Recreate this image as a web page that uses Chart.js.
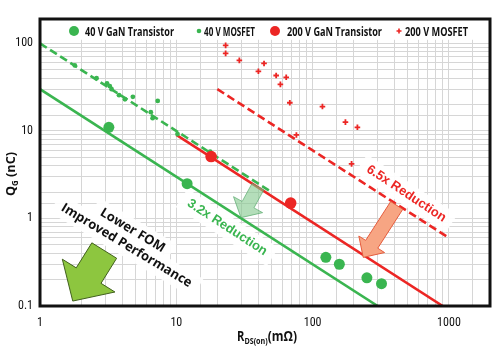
<!DOCTYPE html>
<html><head><meta charset="utf-8">
<script src="https://cdn.jsdelivr.net/npm/chart.js@4.4.1/dist/chart.umd.min.js"></script>
<style>html,body{margin:0;padding:0;background:#fff;}#wrap{width:500px;height:349px;position:relative}</style>
</head><body><div id="wrap"><canvas id="c" width="500" height="349"></canvas></div>
<script>
// ---- data ----
const gan40R = [3.2, 12, 125, 157, 250, 320];
const gan40Q = [11, 2.5, 0.36, 0.30, 0.21, 0.18];
const mos40R = [1.8, 2.6, 3.1, 3.25, 3.35, 3.8, 4.2, 4.8, 6.5, 6.7, 7.3, 10.2, 17.7];
const mos40Q = [56, 40, 35, 32.5, 30, 25.6, 23, 24.5, 16.4, 14, 22, 9.2, 5.8];
const gan200R = [18, 69];
const gan200Q = [5.1, 1.5];
const mos200R = [23, 23, 29, 40, 44, 54, 58, 64, 68, 76, 118, 174, 193, 213];
const mos200Q = [95, 77, 64, 48, 59, 43, 34, 41, 21, 9, 19, 12.6, 4.2, 11];
// figure-of-merit trend lines (end points)
const gan40FitR = [1, 300], gan40FitQ = [30, 0.1];
const mos40FitR = [1, 48], mos40FitQ = [100, 2.08];
const gan200FitR = [10, 900], gan200FitQ = [9, 0.1];
const mos200FitR = [20, 1000], mos200FitQ = [30, 0.6];
const xTickLabels = [1, 10, 100, 1000];
const yTickLabels = [0.1, 1, 10, 100];
const legendLabels = ['40 V GaN Transistor', '40 V MOSFET', '200 V GaN Transistor', '200 V MOSFET'];

const GREEN = 'rgb(58,181,80)';
const RED = 'rgb(236,38,36)';
const TICKFONT = "'Liberation Sans Narrow','Roboto Condensed','Open Sans',sans-serif";
const HUMAN = "'Open Sans','Noto Sans',sans-serif";
const zip = (a, b) => a.map((v, i) => ({x: v, y: b[i]}));

const lineDs = (label, r, q, color, dash) => ({
  label, data: zip(r, q), showLine: true, borderColor: color, borderWidth: 2.6,
  borderDash: dash, pointRadius: 0, pointHoverRadius: 0, fill: false, order: 5
});

const annotations = [
  {text: '3.2x Reduction', x: 23.6, y: 0.79, angle: 33, color: GREEN, font: "bold 13px 'Liberation Sans',Arial,sans-serif"},
  {text: '6.5x Reduction', x: 486, y: 1.92, angle: 33.5, color: RED, font: "bold 13px 'Liberation Sans',Arial,sans-serif"},
  {text: 'Lower FOM', x: 4.77, y: 0.73, angle: 31, color: '#111', font: "bold 13px " + HUMAN},
  {text: 'Improved Performance', x: 4.31, y: 0.49, angle: 31, color: '#111', font: "bold 13px " + HUMAN}
];
const arrows = [
  {x: 2.96, y: 0.43, vx: -31.5, vy: 50.5, sw: 14.6, hw: 31, hl: 30, fill: '#8dc63f', stroke: '#40601c'},
  {x: 39.7, y: 2.31, vx: -17, vy: 31, sw: 6.7, hw: 16.6, hl: 14.8, fill: 'rgba(130,200,140,0.6)', stroke: 'rgba(90,170,110,0.7)'},
  {x: 414, y: 1.41, vx: -33.5, vy: 52, sw: 7.2, hw: 15.3, hl: 15.6, fill: '#f7a583', stroke: '#e55b3c'}
];

function drawArrow(ctx, tx, ty, a) {
  const L = Math.hypot(a.vx, a.vy), ux = a.vx / L, uy = a.vy / L, nx = -uy, ny = ux;
  const bx = tx + ux * (L - a.hl), by = ty + uy * (L - a.hl);
  const pts = [[tx + nx * a.sw, ty + ny * a.sw], [bx + nx * a.sw, by + ny * a.sw], [bx + nx * a.hw, by + ny * a.hw],
    [tx + a.vx, ty + a.vy], [bx - nx * a.hw, by - ny * a.hw], [bx - nx * a.sw, by - ny * a.sw], [tx - nx * a.sw, ty - ny * a.sw]];
  ctx.beginPath();
  pts.forEach((p, i) => i ? ctx.lineTo(p[0], p[1]) : ctx.moveTo(p[0], p[1]));
  ctx.closePath();
  ctx.fillStyle = a.fill; ctx.fill();
  ctx.lineWidth = 1; ctx.strokeStyle = a.stroke; ctx.stroke();
}

// draws a run of text segments squeezed horizontally to a target width (condensed look)
function fitRun(ctx, segs, x, y, targetW) {
  let w = 0;
  segs.forEach(g => { ctx.font = g.f; w += ctx.measureText(g.t).width; });
  const k = targetW / w;
  ctx.save(); ctx.translate(x, y); ctx.scale(k, 1);
  let cx = 0;
  segs.forEach(g => { ctx.font = g.f; ctx.fillText(g.t, cx, g.dy || 0); cx += ctx.measureText(g.t).width; });
  ctx.restore();
}

const decor = {
  id: 'decor',
  beforeDatasetsDraw(chart) {
    const {ctx, chartArea: ca, scales: {x, y}} = chart;
    ctx.save();
    ctx.fillStyle = '#fff';
    ctx.fillRect(ca.left, ca.top, ca.right - ca.left, y.getPixelForValue(110) - ca.top);
    annotations.forEach(a => {
      const px = x.getPixelForValue(a.x), py = y.getPixelForValue(a.y);
      ctx.save(); ctx.translate(px, py); ctx.rotate(a.angle * Math.PI / 180);
      ctx.font = a.font; const w = ctx.measureText(a.text).width;
      ctx.fillStyle = 'rgba(255,255,255,0.92)';
      ctx.fillRect(-w / 2 - 8, -11, w + 16, 22);
      ctx.restore();
    });
    ctx.restore();
  },
  afterDatasetsDraw(chart) {
    const {ctx, chartArea: ca, scales: {x, y}} = chart;
    ctx.save();
    ctx.beginPath(); ctx.rect(ca.left, ca.top, ca.right - ca.left, ca.bottom - ca.top); ctx.clip();
    arrows.forEach(a => drawArrow(ctx, x.getPixelForValue(a.x), y.getPixelForValue(a.y), a));
    annotations.forEach(a => {
      const px = x.getPixelForValue(a.x), py = y.getPixelForValue(a.y);
      ctx.save(); ctx.translate(px, py); ctx.rotate(a.angle * Math.PI / 180);
      ctx.font = a.font; ctx.fillStyle = a.color; ctx.textAlign = 'center'; ctx.textBaseline = 'middle';
      ctx.fillText(a.text, 0, 0);
      ctx.restore();
    });
    ctx.restore();
    ctx.save();
    // legend
    const ly = ca.top + 13;
    const items = [
      {sym: 'big', color: GREEN, sx: 74, tx: 85, w: 89},
      {sym: 'small', color: GREEN, sx: 199, tx: 204, w: 51},
      {sym: 'big', color: RED, sx: 275, tx: 287, w: 95},
      {sym: 'cross', color: RED, sx: 399, tx: 405, w: 63}
    ];
    ctx.textBaseline = 'middle'; ctx.textAlign = 'left';
    items.forEach((it, i) => {
      ctx.fillStyle = it.color; ctx.strokeStyle = it.color;
      if (it.sym === 'big') { ctx.beginPath(); ctx.arc(it.sx, ly - 1, 5, 0, Math.PI * 2); ctx.fill(); }
      else if (it.sym === 'small') { ctx.beginPath(); ctx.arc(it.sx, ly - 1, 2.3, 0, Math.PI * 2); ctx.fill(); }
      else { ctx.lineWidth = 1.6; ctx.beginPath(); ctx.moveTo(it.sx - 2.5, ly - 1); ctx.lineTo(it.sx + 2.5, ly - 1); ctx.moveTo(it.sx, ly - 3.5); ctx.lineTo(it.sx, ly + 1.5); ctx.stroke(); }
      ctx.fillStyle = '#111';
      fitRun(ctx, [{t: legendLabels[i], f: 'bold 13px ' + HUMAN}], it.tx, ly, it.w);
    });
    // frame
    ctx.lineWidth = 3; ctx.strokeStyle = '#111';
    ctx.strokeRect(ca.left, ca.top, ca.right - ca.left, ca.bottom - ca.top);
    // axis titles with subscripts
    ctx.fillStyle = '#111'; ctx.textBaseline = 'alphabetic'; ctx.textAlign = 'left';
    fitRun(ctx, [{t: 'R', f: 'bold 14px ' + HUMAN}, {t: 'DS(on)', f: 'bold 9px ' + HUMAN, dy: 3}, {t: '(m\u03A9)', f: 'bold 15px ' + HUMAN}], 237, 341, 60);
    ctx.save(); ctx.translate(15, 196); ctx.rotate(-Math.PI / 2);
    fitRun(ctx, [{t: 'Q', f: 'bold 13px ' + HUMAN}, {t: 'G', f: 'bold 8px ' + HUMAN, dy: 3}, {t: ' (nC)', f: 'bold 13px ' + HUMAN}], 0, 0, 44);
    ctx.restore();
    ctx.restore();
  }
};

new Chart(document.getElementById('c'), {
  type: 'scatter',
  data: {
    datasets: [
      lineDs('40 V GaN FOM', gan40FitR, gan40FitQ, GREEN, []),
      lineDs('40 V MOSFET FOM', mos40FitR, mos40FitQ, GREEN, [8, 4]),
      lineDs('200 V GaN FOM', gan200FitR, gan200FitQ, RED, []),
      lineDs('200 V MOSFET FOM', mos200FitR, mos200FitQ, RED, [8, 4]),
      {label: legendLabels[1], data: zip(mos40R, mos40Q), pointRadius: 2.4, backgroundColor: GREEN, borderWidth: 0, order: 4},
      {label: legendLabels[3], data: zip(mos200R, mos200Q), pointStyle: 'cross', pointRadius: 2.8, borderColor: RED, borderWidth: 1.8, order: 3},
      {label: legendLabels[0], data: zip(gan40R, gan40Q), pointRadius: 5.5, backgroundColor: GREEN, borderWidth: 0, order: 2},
      {label: legendLabels[2], data: zip(gan200R, gan200Q), pointRadius: 5.8, backgroundColor: RED, borderWidth: 0, order: 1}
    ]
  },
  options: {
    responsive: false, animation: false, devicePixelRatio: 1,
    layout: {padding: {left: 0, right: 8, top: 19, bottom: 0}},
    plugins: {legend: {display: false}, tooltip: {enabled: false}},
    scales: {
      x: {
        type: 'logarithmic', min: 1, max: 2000,
        afterFit: s => { s.height = 43; },
        border: {display: false},
        grid: {color: '#d6d6d6', lineWidth: 1, drawTicks: false},
        ticks: {autoSkip: false, maxRotation: 0, padding: 10, color: '#111', font: {family: TICKFONT, size: 12},
          callback: (v) => xTickLabels.includes(v) ? String(v) : ''}
      },
      y: {
        type: 'logarithmic', min: 0.1, max: 190,
        afterFit: s => { s.width = 40; },
        border: {display: false},
        grid: {color: '#d6d6d6', lineWidth: 1, drawTicks: false},
        ticks: {autoSkip: false, padding: 7, color: '#111', font: {family: TICKFONT, size: 12},
          callback: (v) => yTickLabels.some(t => Math.abs(t - v) < 1e-9) ? String(v) : ''}
      }
    }
  },
  plugins: [decor]
});
</script></body></html>
